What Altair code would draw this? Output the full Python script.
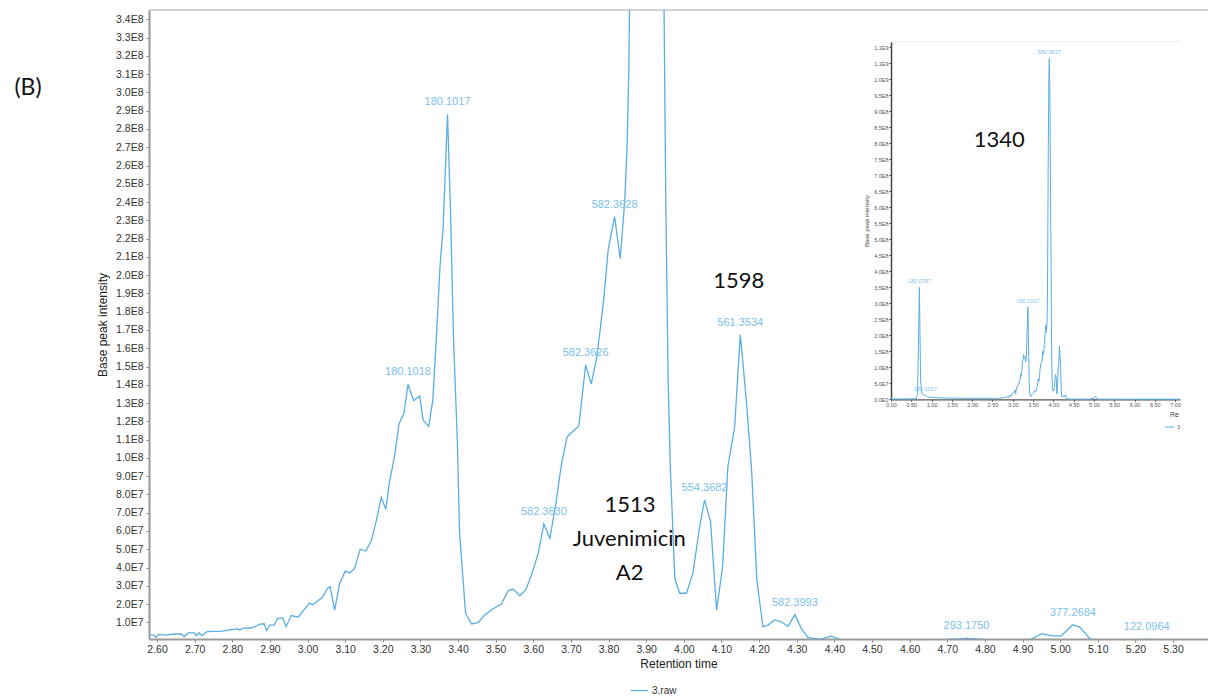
import altair as alt
import pandas as pd

# ---------------------------------------------------------------------------
# Base peak chromatogram of 3.raw
# retention time in minutes, base peak intensity in units of 1e7 counts
# ---------------------------------------------------------------------------
rt_early = [0.00, 0.20, 0.40, 0.55, 0.62, 0.65, 0.67, 0.685, 0.70, 0.715, 0.73,
            0.75, 0.80, 0.85, 0.90, 1.00, 1.20, 1.50, 2.00, 2.30, 2.50]
int_early = [0.10, 0.10, 0.12, 0.15, 0.20, 1.5, 12.0, 25.0, 35.0, 20.0, 6.0,
             2.0, 1.3, 1.2, 0.8, 0.6, 0.45, 0.35, 0.30, 0.30, 0.30]

rt_main = [2.577, 2.590, 2.597, 2.604, 2.622, 2.645, 2.664, 2.672, 2.683, 2.699,
           2.704, 2.712, 2.720, 2.733, 2.774, 2.797, 2.815, 2.820, 2.829, 2.851,
           2.874, 2.885, 2.891, 2.900, 2.911, 2.920, 2.934, 2.943, 2.957, 2.975,
           3.005, 3.014, 3.039, 3.053, 3.060, 3.072, 3.085, 3.100, 3.112, 3.125,
           3.140, 3.155, 3.170, 3.182, 3.196, 3.208, 3.218, 3.232, 3.243, 3.256,
           3.267, 3.282, 3.298, 3.307, 3.322, 3.333, 3.343, 3.352, 3.360, 3.372,
           3.380, 3.388, 3.398, 3.404, 3.412, 3.420, 3.436, 3.453, 3.471, 3.490,
           3.515, 3.533, 3.546, 3.564, 3.580, 3.595, 3.613, 3.628, 3.644, 3.660,
           3.675, 3.690, 3.721, 3.739, 3.754, 3.768, 3.778, 3.787, 3.799, 3.816,
           3.831, 3.843, 3.849, 3.854, 3.862, 3.875, 3.888, 3.900, 3.912, 3.925,
           3.937, 3.945, 3.952, 3.958, 3.964, 3.976, 3.989, 4.007, 4.024, 4.042,
           4.055, 4.071, 4.087, 4.103, 4.117, 4.135, 4.150, 4.166, 4.180, 4.194,
           4.210, 4.224, 4.241, 4.259, 4.277, 4.295, 4.312, 4.330, 4.364, 4.391,
           4.419, 4.500, 4.600, 4.700, 4.740, 4.751, 4.765, 4.800, 4.870, 4.920,
           4.952, 4.975, 5.002, 5.034, 5.052, 5.080, 5.100, 5.200, 5.230, 5.260,
           5.300, 5.390]
int_main = [0.30, 0.30, 0.18, 0.34, 0.30, 0.36, 0.37, 0.22, 0.42, 0.42,
            0.27, 0.42, 0.27, 0.49, 0.52, 0.60, 0.64, 0.58, 0.68, 0.69,
            0.90, 0.92, 0.55, 0.85, 0.85, 1.21, 1.24, 0.76, 1.37, 1.28,
            2.05, 1.96, 2.36, 2.85, 2.95, 1.67, 3.10, 3.80, 3.70, 3.95,
            5.00, 4.90, 5.50, 6.50, 7.84, 7.19, 8.70, 10.16, 11.86, 12.44,
            14.03, 13.13, 13.39, 12.07, 11.71, 13.17, 16.80, 20.50, 22.50, 28.81,
            23.50, 16.45, 10.98, 5.87, 3.68, 1.49, 0.91, 0.98, 1.40, 1.70,
            2.00, 2.73, 2.82, 2.46, 2.77, 3.59, 4.78, 6.38, 5.60, 7.51,
            9.70, 11.16, 11.75, 15.08, 14.04, 15.45, 17.09, 18.64, 21.40, 23.20,
            20.90, 24.10, 26.90, 31.40, 48.0, 78.0, 100.0, 106.5, 98.0, 75.0,
            52.0, 40.0, 24.10, 14.50, 9.52, 3.41, 2.59, 2.59, 3.68, 6.23,
            7.70, 6.51, 1.67, 4.04, 9.52, 11.71, 16.73, 13.17, 9.34, 3.32,
            0.76, 0.85, 1.13, 1.03, 0.78, 1.42, 0.67, 0.16, 0.08, 0.24,
            0.04, 0.05, 0.04, 0.06, 0.10, 0.13, 0.10, 0.05, 0.04, 0.05,
            0.38, 0.27, 0.25, 0.87, 0.74, 0.08, 0.05, 0.05, 0.07, 0.05,
            0.04, 0.04]

rt_late = [5.50, 6.00, 6.50, 7.00, 7.10]
int_late = [0.04, 0.04, 0.03, 0.03, 0.03]

# peak m/z labels in the zoomed view
peak_rt = [3.267, 3.372, 3.628, 3.739, 3.816, 4.055, 4.150, 4.295, 4.751, 5.034, 5.230]
peak_int = [14.03, 28.81, 6.38, 15.08, 23.20, 7.70, 16.73, 1.42, 0.13, 0.87, 0.07]
peak_mz = ["180.1018", "180.1017", "582.3630", "582.3626", "582.3628", "554.3682",
           "561.3534", "582.3993", "293.1750", "377.2684", "122.0964"]

# peak m/z labels in the full-run overview
ov_rt = [0.70, 0.85, 3.372, 3.900]
ov_int = [35.0, 1.2, 28.81, 106.5]
ov_mz = ["180.0757", "180.1017", "180.1017", "582.3627"]

# compound numbers written on the chromatograms
note_text = ["1598", "1513", "Juvenimicin", "A2"]
note_rt = [4.146, 3.857, 3.855, 3.856]
note_int = [19.68, 7.42, 5.54, 3.72]
ov_note_text = ["1340"]
ov_note_rt = [2.667]
ov_note_int = [81.0]

# axis ticks
x_ticks = [round(2.6 + 0.1 * i, 2) for i in range(28)]
y_ticks = [1e7 * i for i in range(1, 35)]
ov_x_ticks = [0.5 * i for i in range(15)]
ov_y_ticks = [5e7 * i for i in range(23)]

UNIT = 1e7
LINE = "#5aaee3"
LABEL = "#7dc0ec"
AX_FONT = "Liberation Sans"
NOTE_FONT = "Lato"
SERIES = "3.raw"

W, H = 1059, 629
EXP_LABEL = "replace(format(datum.value, '.1e'), 'e+', 'E')"


def frame(rt, vals, **extra):
    d = pd.DataFrame({"rt": rt, "intensity": [v * UNIT for v in vals]})
    for k, v in extra.items():
        d[k] = v
    return d


main_df = frame(rt_main, int_main, file=SERIES)
full_df = frame(rt_early + rt_main + rt_late, int_early + int_main + int_late, file=SERIES)
peaks_df = frame(peak_rt, peak_int, mz=peak_mz)
ov_peaks_df = frame(ov_rt, ov_int, mz=ov_mz)
notes_df = frame(note_rt, note_int, label=note_text)
ov_notes_df = frame(ov_note_rt, ov_note_int, label=ov_note_text)
single = pd.DataFrame({"k": [0]})  # one row for stand-alone decorations

# ---------------- zoomed main view ----------------
x_main = alt.X(
    "rt:Q",
    scale=alt.Scale(domain=[2.5787, 5.3929], nice=False, zero=False),
    axis=alt.Axis(
        values=x_ticks, format=".2f", title="Retention time", grid=False,
        labelFont=AX_FONT, labelFontSize=10.5, labelColor="#333", labelPadding=2,
        labelOverlap=False, labelFlush=False,
        tickSize=3, tickColor="#888", domainColor="#9a9a9a", domainWidth=2,
        titleFont=AX_FONT, titleFontSize=12, titleFontWeight="normal",
        titleColor="#222", titlePadding=4,
    ),
)
y_main = alt.Y(
    "intensity:Q",
    scale=alt.Scale(domain=[0.0876 * UNIT, 34.51 * UNIT], nice=False, zero=False),
    axis=alt.Axis(
        values=y_ticks, labelExpr=EXP_LABEL, title="Base peak intensity", grid=False,
        labelFont=AX_FONT, labelFontSize=10.5, labelColor="#333", labelPadding=3,
        labelOverlap=False, tickSize=3, tickColor="#888",
        domainColor="#9a9a9a", domainWidth=2,
        titleFont=AX_FONT, titleFontSize=12, titleFontWeight="normal",
        titleColor="#222", titlePadding=6,
    ),
)

main_line = alt.Chart(main_df).mark_line(clip=True, strokeWidth=1.3).encode(
    x=x_main,
    y=y_main,
    color=alt.Color(
        "file:N",
        scale=alt.Scale(range=[LINE]),
        legend=alt.Legend(
            title=None, orient="none", legendX=481, legendY=671,
            symbolType="stroke", symbolSize=300, symbolStrokeWidth=1.3,
            labelFont=AX_FONT, labelFontSize=10, labelColor="#333",
            padding=0, labelOffset=3,
        ),
    ),
)

main_labels = alt.Chart(peaks_df).mark_text(
    dy=-12, font=AX_FONT, fontSize=11, color=LABEL, baseline="middle"
).encode(x=x_main, y=y_main, text="mz:N")

main_notes = alt.Chart(notes_df).mark_text(
    font=NOTE_FONT, fontSize=22, color="#111", baseline="middle"
).encode(x=x_main, y=y_main, text="label:N")

top_border = alt.Chart(single).mark_rule(color="#a8a8a8", strokeWidth=1).encode(
    x=alt.value(0), x2=alt.value(W), y=alt.value(0)
)

panel_tag = alt.Chart(single).mark_text(
    text="(B)", font=NOTE_FONT, fontSize=23, color="#111", align="center", baseline="middle"
).encode(x=alt.value(-121), y=alt.value(78))

main_group = alt.layer(top_border, main_line, main_labels, main_notes, panel_tag)

# ---------------- full-run overview ----------------
OV_X0, OV_X1 = 742, 1031
OV_Y0, OV_Y1 = 389.3, 31.7

x_ov = alt.X(
    "rt:Q",
    scale=alt.Scale(domain=[0, 7.12], range=[OV_X0, OV_X1], nice=False, zero=False),
    axis=alt.Axis(
        orient="bottom", offset=OV_Y0 - H, values=ov_x_ticks, format=".2f",
        title=None, grid=False, labelFont=AX_FONT, labelFontSize=5.5,
        labelColor="#555", labelPadding=1, labelOverlap=False, labelFlush=False,
        tickSize=2, tickColor="#555", domainColor="#555", domainWidth=1.2,
    ),
)
y_ov = alt.Y(
    "intensity:Q",
    scale=alt.Scale(domain=[0, 1.1175e9], range=[OV_Y0, OV_Y1], nice=False, zero=False),
    axis=alt.Axis(
        orient="left", offset=-OV_X0, values=ov_y_ticks, labelExpr=EXP_LABEL,
        title="Base peak intensity", grid=False, labelFont=AX_FONT,
        labelFontSize=5.5, labelColor="#555", labelPadding=1, labelOverlap=False,
        tickSize=2, tickColor="#444", domainColor="#444", domainWidth=1.5,
        titleFont=AX_FONT, titleFontSize=6, titleFontWeight="normal",
        titleColor="#444", titlePadding=4,
    ),
)

ov_line = alt.Chart(full_df).mark_line(strokeWidth=1, color=LINE).encode(x=x_ov, y=y_ov)

ov_labels = alt.Chart(ov_peaks_df).mark_text(
    dy=-6.5, font=AX_FONT, fontSize=5.5, color=LABEL, baseline="middle"
).encode(x=x_ov, y=y_ov, text="mz:N")

ov_notes = alt.Chart(ov_notes_df).mark_text(
    font=NOTE_FONT, fontSize=22, color="#111", baseline="middle"
).encode(x=x_ov, y=y_ov, text="label:N")

ov_border = alt.Chart(single).mark_rule(color="#ececec", strokeWidth=1).encode(
    x=alt.value(OV_X0), x2=alt.value(OV_X1), y=alt.value(OV_Y1)
)

ov_xtitle = alt.Chart(single).mark_text(
    text="Re", font=AX_FONT, fontSize=7, color="#444", align="left", baseline="middle"
).encode(x=alt.value(1021), y=alt.value(405))

ov_key_line = alt.Chart(single).mark_rule(color=LINE, strokeWidth=1).encode(
    x=alt.value(1016), x2=alt.value(1025), y=alt.value(417)
)
ov_key_text = alt.Chart(single).mark_text(
    text="3", font=AX_FONT, fontSize=5.5, color="#555", align="left", baseline="middle"
).encode(x=alt.value(1028), y=alt.value(417))

ov_group = alt.layer(ov_border, ov_line, ov_labels, ov_notes, ov_xtitle, ov_key_line, ov_key_text)

chart = (
    alt.layer(main_group, ov_group)
    .resolve_scale(x="independent", y="independent")
    .properties(
        width=W, height=H,
        padding={"left": 149, "top": 10, "right": 0, "bottom": 57},
        autosize=alt.AutoSizeParams(type="none"),
        background="white",
    )
    .configure_view(stroke=None)
)

chart.save("out.html", embed_options={"renderer": "svg", "actions": False})
